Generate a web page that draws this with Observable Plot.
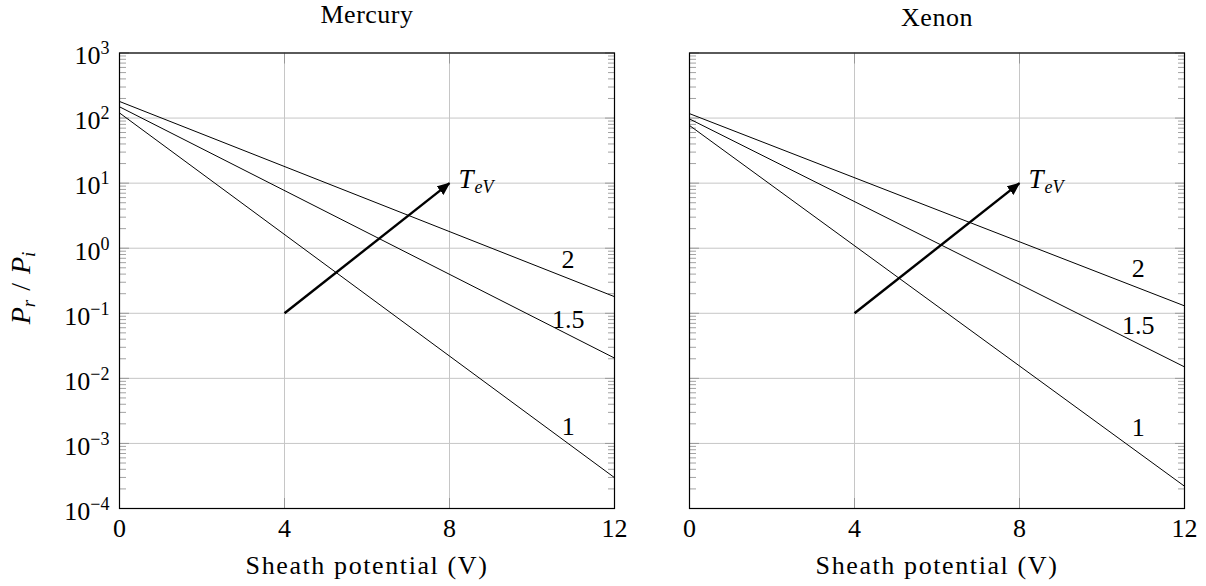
<!DOCTYPE html>
<html><head><meta charset="utf-8">
<script src="https://cdn.jsdelivr.net/npm/d3@7"></script>
<script src="https://cdn.jsdelivr.net/npm/@observablehq/plot@0.6"></script>
<style>
body{margin:0;background:#fff;}
#chart{position:relative;width:1206px;height:586px;display:flex;background:#fff;}
#chart svg, #chart svg text{font-family:"Liberation Serif","DejaVu Serif",serif !important;}
</style></head><body><div id="chart"></div>
<script>
// ---- data ----
const sheathX = [0, 12];
const temperatures = ["1", "1.5", "2"];
const mercuryStart = [120, 149, 180];
const mercuryEnd = [2.98e-4, 0.0205, 0.18];
const xenonStart = [77, 97, 117];
const xenonEnd = [2.2e-4, 0.015, 0.13];
const mercuryLabelX = [10.88, 10.88, 10.87];
const mercuryLabelY = [1.83e-3, 0.079, 0.665];
const xenonLabelX = [10.88, 10.88, 10.88];
const xenonLabelY = [1.76e-3, 0.0653, 0.484];
const arrowStart = [4, 0.1];
const arrowEnd = [8, 10];
const xTicks = [0, 4, 8, 12];
const yTicks = [1e-4, 1e-3, 1e-2, 1e-1, 1e0, 1e1, 1e2, 1e3];
const yExponents = ["−4", "−3", "−2", "−1", "0", "1", "2", "3"];
const minorMultipliers = [2, 3, 4, 5, 6, 7, 8, 9];
const panelTitles = ["Mercury", "Xenon"];
const xLabel = "Sheath potential (V)";

const minorTicks = yTicks.slice(0, -1).flatMap(d => minorMultipliers.map(m => m * d));
const STYLE = "font-family: 'Liberation Serif', 'DejaVu Serif', serif; font-size: 26px; background: white; color: black; overflow: visible;";

function panel({title, start, end, labelX, labelY, width, marginLeft, marginRight, yLabels, titleDy, id}) {
  const rows = temperatures.flatMap((t, i) => [
    {T: t, x: sheathX[0], y: start[i]},
    {T: t, x: sheathX[1], y: end[i]}
  ]);
  const labels = temperatures.map((t, i) => ({T: t, x: labelX[i], y: labelY[i]}));
  const tickStyle = {stroke: "#8c8c8c", strokeWidth: 0.8, tickFormat: () => "", label: null};
  const marks = [
    Plot.gridY(yTicks, {stroke: "#c6c6c6", strokeOpacity: 1, strokeWidth: 1}),
    Plot.gridX([4, 8], {stroke: "#c6c6c6", strokeOpacity: 1, strokeWidth: 1}),
    Plot.axisY({ticks: minorTicks, anchor: "left", tickSize: -7, ...tickStyle}),
    Plot.axisY({ticks: minorTicks, anchor: "right", tickSize: -7, ...tickStyle}),
    Plot.axisY({ticks: yTicks, anchor: "left", tickSize: -10, ...tickStyle}),
    Plot.axisY({ticks: yTicks, anchor: "right", tickSize: -10, ...tickStyle}),
    Plot.axisX({ticks: xTicks, anchor: "bottom", tickSize: -10, ...tickStyle}),
    Plot.axisX({ticks: xTicks, anchor: "top", tickSize: -10, ...tickStyle}),
    Plot.axisX({ticks: xTicks, anchor: "bottom", tickSize: 0, tickPadding: 10, fontSize: 26, label: null}),
    Plot.line(rows, {x: "x", y: "y", z: "T", stroke: "black", strokeWidth: 1}),
    Plot.text(labels, {x: "x", y: "y", text: "T", fontSize: 26}),
    Plot.link([[arrowStart, arrowEnd]], {x1: d => d[0][0], y1: d => d[0][1], x2: d => d[1][0], y2: d => d[1][1], stroke: "black", strokeWidth: 2.4}),
    Plot.text([arrowEnd], {x: d => d[0], y: d => d[1], text: () => "T", textAnchor: "start", lineAnchor: "bottom", dx: 9, dy: 5, fontStyle: "italic", fontSize: 27}),
    Plot.text([arrowEnd], {x: d => d[0], y: d => d[1], text: () => "eV", textAnchor: "start", lineAnchor: "bottom", dx: 25, dy: 10, fontStyle: "italic", fontSize: 18}),
    Plot.frame({stroke: "black", strokeWidth: 1.2}),
    Plot.text([title], {text: d => d, frameAnchor: "top", lineAnchor: "bottom", dy: titleDy, fontSize: 26}),
    Plot.text([xLabel], {text: d => d, frameAnchor: "bottom", lineAnchor: "bottom", dy: 65, fontSize: 26})
  ];
  if (yLabels) {
    marks.push(Plot.axisY({ticks: yTicks, anchor: "left", tickSize: 0, tickPadding: 10, dy: 3, fontSize: 26, label: null,
      tickFormat: d => "10^" + yExponents[yTicks.indexOf(d)]}));
  }
  const svg = Plot.plot({
    width, height: 586,
    marginLeft, marginRight, marginTop: 52.5, marginBottom: 78,
    style: STYLE,
    x: {domain: [0, 12], label: null},
    y: {type: "log", domain: [1e-4, 1e3], label: null},
    marks
  });
  const s = d3.select(svg);
  s.append("defs").append("marker")
    .attr("id", "head-" + id).attr("viewBox", "0 0 13 11")
    .attr("refX", 12).attr("refY", 5.5)
    .attr("markerWidth", 13).attr("markerHeight", 11)
    .attr("markerUnits", "userSpaceOnUse").attr("orient", "auto")
    .append("path").attr("d", "M0,0L13,5.5L0,11Z").attr("fill", "black");
  s.selectAll('g[aria-label="link"] path').attr("marker-end", `url(#head-${id})`);
  s.selectAll('g[aria-label="y-axis tick label"] text').each(function() {
    const parts = this.textContent.split("^");
    if (parts.length < 2) return;
    this.textContent = parts[0];
    d3.select(this).append("tspan").attr("dy", -10).attr("font-size", 18).text(parts[1]);
  });
  s.selectAll("text").each(function() {
    if (this.textContent === xLabel) this.style.letterSpacing = "1.6px";
    if (this.textContent === title) this.style.letterSpacing = "0.5px";
  });
  if (yLabels) {
    const t = s.append("text")
      .attr("transform", "translate(30,288) rotate(-90)")
      .attr("text-anchor", "middle").attr("font-size", 28).attr("fill", "black");
    t.append("tspan").attr("font-style", "italic").text("P");
    t.append("tspan").attr("font-style", "italic").attr("font-size", 19).attr("dy", 5).text("r");
    t.append("tspan").attr("dy", -5).attr("dx", 9).text("/");
    t.append("tspan").attr("font-style", "italic").attr("dx", 9).text("P");
    t.append("tspan").attr("font-style", "italic").attr("font-size", 19).attr("dy", 5).text("i");
  }
  return svg;
}

const chart = document.getElementById("chart");
chart.appendChild(panel({title: panelTitles[0], start: mercuryStart, end: mercuryEnd, labelX: mercuryLabelX, labelY: mercuryLabelY,
  width: 650, marginLeft: 119, marginRight: 36, yLabels: true, titleDy: -30, id: "m"}));
chart.appendChild(panel({title: panelTitles[1], start: xenonStart, end: xenonEnd, labelX: xenonLabelX, labelY: xenonLabelY,
  width: 556, marginLeft: 39, marginRight: 22, yLabels: false, titleDy: -27, id: "x"}));
</script></body></html>
